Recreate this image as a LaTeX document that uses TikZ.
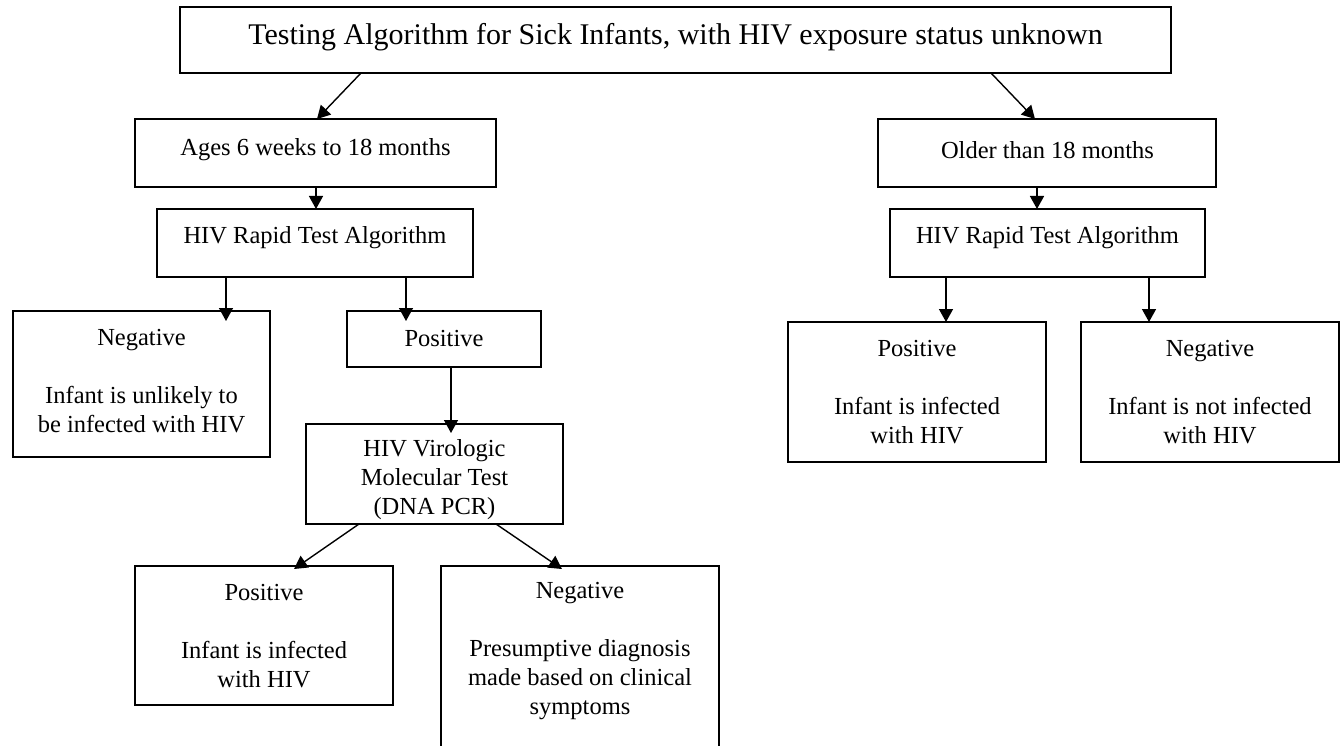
\documentclass[tikz,border=0pt]{standalone}
\usepackage{fontspec}
\setmainfont{Liberation Serif}
\usetikzlibrary{arrows.meta,calc}
\begin{document}
\begin{tikzpicture}[x=1pt,y=-1pt,
  box/.style={draw, line width=1.5pt, inner sep=0pt, outer sep=0pt},
  txt/.style={font=\fontsize{24.5}{29}\selectfont, align=center, inner sep=0pt},
  ttl/.style={font=\fontsize{30}{36}\selectfont, inner sep=0pt},
  arr/.style={line width=1.4pt, -{Triangle[length=13pt,width=14pt]}}]
\useasboundingbox (0,0) rectangle (1343,746);

% boxes
\node[box, minimum width=991pt, minimum height=66pt] (title) at (675.5,40) {};
\node[box, minimum width=361pt, minimum height=68pt] (ages) at (315.5,153) {};
\node[box, minimum width=316pt, minimum height=68pt] (rapidL) at (315,243) {};
\node[box, minimum width=257pt, minimum height=146pt] (negL) at (141.5,384) {};
\node[box, minimum width=194pt, minimum height=56pt] (posL) at (444,339) {};
\node[box, minimum width=257pt, minimum height=100pt] (viro) at (434.5,474) {};
\node[box, minimum width=258pt, minimum height=139pt] (posB) at (264,635.5) {};
\node[box, minimum width=278pt, minimum height=204pt] (negB) at (580,668) {};
\node[box, minimum width=338pt, minimum height=68pt] (older) at (1047,153) {};
\node[box, minimum width=315pt, minimum height=68pt] (rapidR) at (1047.5,243) {};
\node[box, minimum width=258pt, minimum height=140pt] (posR) at (917,392) {};
\node[box, minimum width=258pt, minimum height=140pt] (negR) at (1210,392) {};

% texts
\node[ttl] (ttitle) at (675.5,37) {Testing Algorithm for Sick Infants, with HIV exposure status unknown};
\node[txt] (tages) at (315.5,150) {Ages 6 weeks to 18 months};
\node[txt] (trapidL) at (315,238) {HIV Rapid Test Algorithm};
\node[txt] (tnegL) at (141.5,381) {Negative\\[29pt]Infant is unlikely to\\be infected with HIV};
\node[txt] (tposL) at (444,339) {Positive};
\node[txt] (tviro) at (434.5,480) {HIV Virologic\\Molecular Test\\(DNA PCR)};
\node[txt] (tposB) at (264,636) {Positive\\[29pt]Infant is infected\\with HIV};
\node[txt] (tnegB) at (580,651) {Negative\\[29pt]Presumptive diagnosis\\made based on clinical\\symptoms};
\node[txt] (tolder) at (1047.5,150) {Older than 18 months};
\node[txt] (trapidR) at (1047.5,238) {HIV Rapid Test Algorithm};
\node[txt] (tposR) at (917,392) {Positive\\[29pt]Infant is infected\\with HIV};
\node[txt] (tnegR) at (1210,392) {Negative\\[29pt]Infant is not infected\\with HIV};

% connectors
\draw[arr] ($(title.south west)+(181,0)$) -- ($(ages.north west)+(182,0)$);
\draw[arr] ($(title.south west)+(811,0)$) -- ($(older.north west)+(157,0)$);
\draw[arr] ($(ages.south west)+(181,0)$) -- ($(rapidL.north west)+(159,0)$);
\draw[arr] ($(older.south west)+(159,0)$) -- ($(rapidR.north west)+(147,0)$);
\draw[arr] ($(rapidL.south west)+(69,0)$) -- ($(negL.north west)+(213,10)$);
\draw[arr] ($(rapidL.south west)+(249,0)$) -- ($(posL.north west)+(59,10)$);
\draw[arr] ($(posL.south west)+(104,0)$) -- ($(viro.north west)+(145,9)$);
\draw[arr] ($(viro.south west)+(53,0)$) -- ($(posB.north west)+(159,3)$);
\draw[arr] ($(viro.south west)+(190,0)$) -- ($(negB.north west)+(121,3)$);
\draw[arr] ($(rapidR.south west)+(56,0)$) -- ($(posR.north west)+(158,0)$);
\draw[arr] ($(rapidR.south west)+(259,0)$) -- ($(negR.north west)+(68,0)$);
\end{tikzpicture}
\end{document}
